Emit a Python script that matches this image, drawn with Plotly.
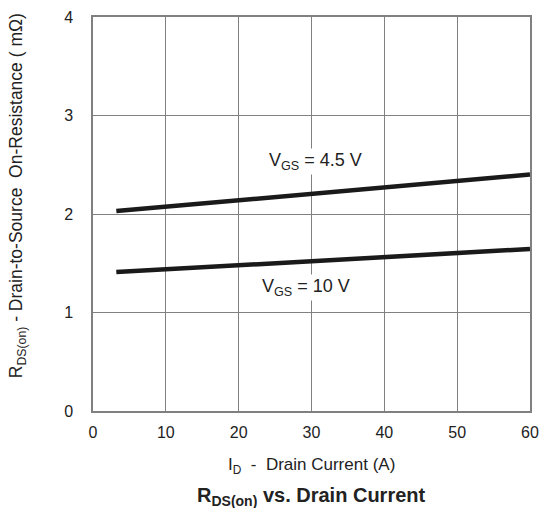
import plotly.graph_objects as go

# Data
drain_current = [3.2, 30, 60]            # A
rds_vgs_4_5 = [2.03, 2.21, 2.40]         # mOhm, VGS = 4.5 V
rds_vgs_10 = [1.41, 1.52, 1.645]         # mOhm, VGS = 10 V
x_ticks = [0, 10, 20, 30, 40, 50, 60]
y_ticks = [0, 1, 2, 3, 4]

FONT = "Liberation Sans, Arial, sans-serif"
LINE_COLOR = "#1a1a1a"
GRID = "#808080"
TXT = "#222222"

fig = go.Figure()
fig.add_trace(go.Scatter(x=drain_current, y=rds_vgs_4_5, mode="lines",
                         line=dict(color=LINE_COLOR, width=4.5), showlegend=False))
fig.add_trace(go.Scatter(x=drain_current, y=rds_vgs_10, mode="lines",
                         line=dict(color=LINE_COLOR, width=4.5), showlegend=False))

fig.add_annotation(x=30.5, y=2.53, text="V<sub>GS</sub> = 4.5 V", showarrow=False,
                   font=dict(family=FONT, size=18, color=TXT), bgcolor="white")
fig.add_annotation(x=29.3, y=1.25, text="V<sub>GS</sub> = 10 V", showarrow=False,
                   font=dict(family=FONT, size=18, color=TXT), bgcolor="white")

# axis titles and chart title
fig.add_annotation(x=0.5, y=-0.14, xref="paper", yref="paper",
                   xanchor="center", yanchor="middle",
                   text="I<sub>D</sub>  -  Drain Current (A)", showarrow=False,
                   font=dict(family=FONT, size=17, color=TXT))
fig.add_annotation(x=-0.171, y=0.546, xref="paper", yref="paper", textangle=-90,
                   xanchor="center", yanchor="middle",
                   text="R<sub>DS(on)</sub> - Drain-to-Source  On-Resistance ( mΩ)",
                   showarrow=False, font=dict(family=FONT, size=17.5, color=TXT))
fig.add_annotation(x=0.5, y=-0.218, xref="paper", yref="paper",
                   xanchor="center", yanchor="middle",
                   text="<b>R<sub>DS(on)</sub> vs. Drain Current</b>", showarrow=False,
                   font=dict(family=FONT, size=20, color=TXT))

fig.update_layout(
    width=534, height=500,
    margin=dict(l=85, r=12, t=9, b=97),
    plot_bgcolor="white", paper_bgcolor="white",
    font=dict(family=FONT, size=16, color=TXT),
    xaxis=dict(range=[0, 60], tickvals=x_ticks, showgrid=True, gridcolor=GRID, gridwidth=1,
               showline=True, linecolor=GRID, linewidth=1.5, mirror=True, zeroline=False,
               ticks="", ticklabelstandoff=6, automargin=False, ticklabeloverflow="allow"),
    yaxis=dict(range=[0, 4], tickvals=y_ticks, showgrid=True, gridcolor=GRID, gridwidth=1,
               showline=True, linecolor=GRID, linewidth=1.5, mirror=True, zeroline=False,
               ticks="", ticklabelstandoff=15, automargin=False, ticklabeloverflow="allow"),
)

fig.write_html("out.html")
